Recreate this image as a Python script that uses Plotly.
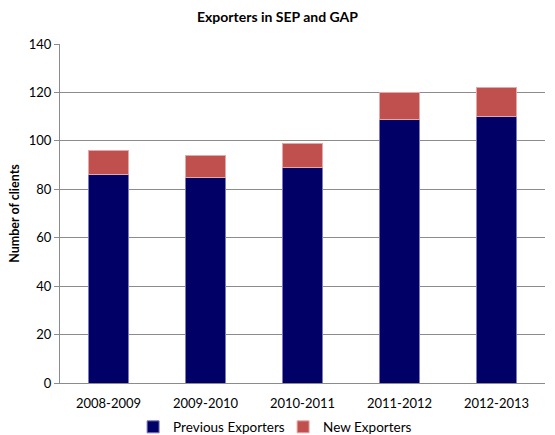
import plotly.graph_objects as go

categories = ["2008-2009", "2009-2010", "2010-2011", "2011-2012", "2012-2013"]
previous_exporters = [86, 85, 89, 109, 110]
new_exporters = [10, 9, 10, 11, 12]
y_ticks = [0, 20, 40, 60, 80, 100, 120, 140]

font_family = "Lato, Open Sans, sans-serif"

fig = go.Figure()
fig.add_trace(go.Bar(
    x=categories, y=previous_exporters, name="Previous Exporters",
    marker=dict(color="#000066", line=dict(color="#7b7bbb", width=1)),
))
fig.add_trace(go.Bar(
    x=categories, y=new_exporters, name="New Exporters",
    marker=dict(color="#C0504D", line=dict(color="#e4a9a7", width=1)),
))

fig.update_layout(
    barmode="stack",
    bargap=0.59,
    width=555, height=435,
    margin=dict(l=60, r=10, t=44, b=52, autoexpand=False),
    paper_bgcolor="white", plot_bgcolor="white",
    font=dict(family=font_family, size=13, color="#000000"),
    title=dict(text="<b>Exporters in SEP and GAP</b>", x=0.5, xanchor="center",
               y=0.96, yanchor="middle", font=dict(size=14, family=font_family)),
    legend=dict(orientation="h", x=0.46, xanchor="center", y=-0.13, yanchor="middle",
                font=dict(size=13.5), traceorder="normal",
                entrywidth=105, entrywidthmode="pixels"),
    xaxis=dict(showline=True, linecolor="#8c8c8c", linewidth=1, ticks="",
               tickfont=dict(size=13), ticklabelstandoff=8, automargin=False),
    yaxis=dict(range=[0, 140], tickvals=y_ticks, showgrid=True, gridcolor="#8c8c8c",
               gridwidth=1, showline=True, linecolor="#8c8c8c", linewidth=1,
               ticks="outside", ticklen=5, tickcolor="#8c8c8c",
               tickfont=dict(size=13), automargin=False,
               title=dict(text="<b>Number of clients</b>", font=dict(size=12.5), standoff=6),
               zeroline=False),
)

fig.write_html("out.html", config={"displayModeBar": False},
               post_script="document.body.style.margin='0';document.body.style.overflow='hidden';")
